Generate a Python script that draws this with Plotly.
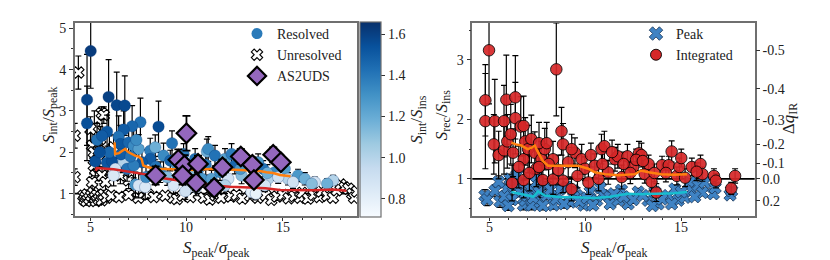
import plotly.graph_objects as go

# ---------------- Left panel data ----------------
res_x = [5.03, 4.84, 4.84, 5.96, 6.38, 6.80, 8.55, 7.61, 7.18, 6.74,
         5.88, 5.36, 5.62, 5.27, 5.88, 6.14, 6.48, 6.57, 7.00, 7.26,
         7.52, 8.12, 8.38, 9.25, 8.81, 8.12, 7.69, 6.74, 6.92, 7.26,
         6.31, 6.22, 7.35, 7.52, 7.86, 9.33, 9.94, 9.68, 9.16, 10.45,
         11.06, 10.63, 10.80, 9.85, 8.64, 6.00, 5.50, 6.60, 7.10, 7.40,
         7.90, 8.40, 9.00, 9.50, 10.20, 11.13, 11.48, 12.00, 12.34, 12.51,
         13.03, 13.72, 13.98, 14.59, 15.10, 15.27, 15.79, 16.14, 16.66, 17.61,
         17.30, 13.55, 13.37, 13.60, 11.30, 11.74, 12.86, 14.24, 14.76, 15.53,
         12.17, 14.07, 11.00, 12.80, 14.20, 10.50, 12.00, 16.50]
res_y = [4.45, 3.27, 2.70, 3.34, 3.14, 3.13, 2.62, 2.73, 2.63, 2.55,
         2.50, 2.30, 2.40, 1.78, 1.75, 1.78, 2.38, 2.20, 2.24, 2.16,
         2.08, 2.04, 2.12, 2.22, 1.92, 1.84, 1.76, 1.76, 1.60, 1.68,
         1.60, 1.44, 1.22, 1.20, 1.16, 1.20, 1.06, 1.56, 1.80, 1.84,
         2.02, 1.60, 1.36, 1.96, 1.52, 2.00, 2.00, 1.95, 1.90, 2.30,
         1.40, 1.65, 1.40, 1.70, 1.45, 2.08, 1.92, 1.84, 1.96, 1.68,
         1.76, 1.76, 1.60, 1.52, 1.60, 1.36, 1.44, 1.36, 1.28, 1.32,
         1.24, 1.16, 1.04, 1.00, 1.36, 1.52, 1.44, 1.36, 1.40, 1.28,
         1.36, 1.20, 1.70, 1.60, 1.50, 1.15, 1.20, 1.24]
res_err = [0.90, 1.10, 0.90, 0.90, 0.80, 0.72, 0.62, 0.58, 0.50, 0.45,
           0.40, 0.40, 0.40, 0.35, 0.30, 0.30, 0.50, 0.45, 0.40, 0.40,
           0.35, 0.30, 0.30, 0.30, 0.30, 0.30, 0.30, 0.25, 0.30, 0.30,
           0.25, 0.25, 0.30, 0.30, 0.30, 0.20, 0.20, 0.25, 0.25, 0.25,
           0.30, 0.25, 0.20, 0.25, 0.25, 0.40, 0.35, 0.35, 0.30, 0.40,
           0.25, 0.25, 0.20, 0.25, 0.20, 0.30, 0.25, 0.25, 0.25, 0.20,
           0.20, 0.20, 0.20, 0.20, 0.20, 0.15, 0.15, 0.15, 0.12, 0.12,
           0.12, 0.15, 0.15, 0.15, 0.20, 0.20, 0.20, 0.15, 0.15, 0.15,
           0.20, 0.15, 0.25, 0.20, 0.20, 0.20, 0.20, 0.12]
res_c = [1.62, 1.58, 1.55, 1.60, 1.58, 1.57, 1.56, 1.42, 1.46, 1.50,
         1.52, 1.42, 1.50, 1.55, 1.52, 1.55, 1.42, 1.52, 1.46, 1.33,
         1.25, 1.38, 1.18, 1.42, 1.33, 1.50, 1.52, 1.00, 1.42, 1.38,
         0.90, 0.85, 1.28, 0.88, 0.85, 0.85, 0.90, 1.33, 1.46, 1.42,
         1.18, 1.33, 1.28, 1.38, 1.33, 1.46, 1.55, 1.50, 1.42, 1.33,
         1.33, 1.42, 1.12, 1.28, 1.12, 1.33, 1.42, 1.25, 1.38, 1.46,
         1.33, 1.28, 1.42, 1.33, 1.25, 1.00, 1.28, 1.18, 0.90, 1.00,
         1.18, 0.85, 0.80, 0.78, 1.25, 1.33, 1.12, 1.00, 0.90, 0.90,
         0.90, 0.88, 1.38, 1.28, 1.18, 0.90, 1.00, 1.12]

unres_x = [4.39, 5.60, 5.71, 5.22, 4.20, 4.20, 5.02, 5.10, 5.19, 5.19,
           5.27, 5.10, 5.53, 5.45, 5.62, 5.80, 6.22, 6.57, 7.00, 5.90, 6.10,
           4.65, 4.70, 4.75, 4.80, 4.85, 4.95, 5.05, 5.15, 5.25, 5.30,
           5.35, 5.45, 5.55, 5.60, 5.70, 5.85, 6.10, 6.50, 7.00, 7.50,
           8.00, 8.30, 8.90, 9.30, 9.50, 9.80, 10.20, 10.90, 11.20, 11.50,
           11.80, 12.30, 12.60, 12.90, 13.30, 13.70, 14.10, 14.40, 14.70, 15.00,
           15.30, 15.60, 15.90, 16.00, 16.30, 16.60, 16.90, 17.00, 17.30, 17.60,
           17.80, 18.00, 18.20, 18.40, 18.60, 18.70, 18.85]
unres_y = [3.93, 2.95, 2.90, 2.60, 2.40, 1.40, 2.56, 2.16, 2.00, 1.68,
           1.44, 1.28, 2.32, 2.04, 1.44, 1.28, 2.12, 1.44, 1.32, 1.90, 1.55,
           0.95, 0.85, 0.92, 0.82, 0.98, 0.88, 0.95, 1.02, 0.90, 0.82,
           0.97, 0.86, 0.93, 0.84, 0.98, 0.90, 0.95, 0.92, 0.97, 0.90,
           0.98, 0.92, 0.95, 0.90, 0.87, 0.95, 0.92, 0.90, 0.86, 0.96,
           0.90, 0.93, 0.97, 0.88, 0.95, 0.90, 0.96, 0.85, 0.93, 0.97,
           0.89, 0.94, 0.90, 1.02, 0.88, 0.97, 0.92, 1.05, 0.95, 0.90,
           1.08, 1.22, 1.15, 1.12, 1.00, 0.90, 1.05]
unres_err = [0.40, 0.15, 0.20, 0.40, 0.30, 0.20, 0.30, 0.30, 0.30, 0.25,
             0.20, 0.20, 0.30, 0.30, 0.20, 0.20, 0.30, 0.20, 0.20, 0.25, 0.20,
             0.10, 0.10, 0.10, 0.10, 0.10, 0.09, 0.09, 0.09, 0.09, 0.09,
             0.09, 0.09, 0.08, 0.08, 0.08, 0.08, 0.08, 0.08, 0.08, 0.07,
             0.07, 0.07, 0.07, 0.06, 0.06, 0.06, 0.06, 0.06, 0.06, 0.06,
             0.06, 0.06, 0.06, 0.05, 0.05, 0.05, 0.05, 0.05, 0.05, 0.05,
             0.05, 0.05, 0.05, 0.05, 0.05, 0.05, 0.05, 0.05, 0.04, 0.04,
             0.04, 0.04, 0.04, 0.04, 0.04, 0.04, 0.04]

as2_x = [10.00, 9.58, 9.90, 9.80, 8.40, 10.60, 10.50, 11.44, 11.87, 12.82, 13.42, 13.50, 14.50, 14.90]
as2_y = [2.46, 1.82, 1.68, 1.44, 1.44, 1.72, 1.26, 1.14, 1.64, 1.90, 1.70, 1.33, 1.94, 1.76]
as2_err = [0.42, 0.25, 0.25, 0.22, 0.22, 0.20, 0.18, 0.18, 0.18, 0.18, 0.18, 0.15, 0.18, 0.15]

medres_x = [6.27, 6.30, 6.50, 6.81, 7.00, 7.33, 7.50, 7.67, 7.76, 8.00, 8.50, 9.00,
            9.70, 10.40, 11.40, 12.40, 13.10, 13.80, 14.15, 14.50, 14.85, 15.20, 15.40]
medres_y = [2.24, 1.96, 1.98, 2.08, 2.00, 1.92, 1.90, 1.84, 1.68, 1.64, 1.60, 1.59,
            1.59, 1.57, 1.60, 1.58, 1.55, 1.55, 1.52, 1.50, 1.45, 1.44, 1.42]
medall_x = [5.30, 5.34, 6.22, 7.08, 7.95, 8.80, 9.66, 10.50, 11.40, 12.25, 13.10,
            14.10, 14.85, 15.70, 16.60, 17.60, 17.95, 18.30]
medall_y = [1.55, 1.62, 1.59, 1.52, 1.46, 1.37, 1.31, 1.26, 1.20, 1.17, 1.15,
            1.13, 1.09, 1.08, 1.08, 1.10, 1.08, 1.07]

x_ticks = [5, 10, 15]
cbar_ticks = [0.8, 1.0, 1.2, 1.4, 1.6]

# ---------------- Right panel data ----------------
int_x = [5.00, 4.81, 4.81, 5.30, 5.25, 5.50, 5.78, 5.90, 5.78, 5.95,
         6.13, 6.37, 6.37, 6.25, 6.20, 6.65, 6.80, 6.88, 6.80, 6.80,
         7.03, 7.20, 7.38, 7.46, 7.72, 7.90, 7.80, 8.50, 8.77, 8.85,
         8.85, 8.33, 8.33, 9.29, 9.12, 9.47, 9.82, 9.99, 10.17, 10.50,
         10.85, 11.00, 10.70, 11.20, 11.55, 11.70, 11.90, 12.20, 12.50, 12.80,
         12.93, 13.10, 13.30, 13.45, 13.70, 14.00, 14.35, 14.50, 14.77, 14.90,
         15.20, 15.55, 16.00, 16.10, 16.70, 16.80, 17.80, 17.60,
         7.60, 8.00, 8.10, 8.60, 9.60, 9.30, 10.30, 10.90, 11.40, 12.00,
         12.35, 12.65, 13.00, 13.60, 14.20, 15.00, 15.80, 7.10, 6.55, 7.60]
int_y = [3.16, 2.32, 1.97, 1.97, 1.58, 1.40, 1.97, 2.33, 1.48, 1.63,
         1.75, 2.37, 2.02, 1.44, 0.93, 1.88, 1.89, 1.63, 1.33, 0.98,
         1.50, 1.67, 1.44, 1.17, 1.33, 1.50, 0.98, 2.84, 1.80, 1.58,
         0.97, 0.99, 1.33, 0.83, 1.28, 1.44, 1.33, 1.17, 0.94, 1.22,
         1.50, 1.55, 1.00, 1.11, 1.33, 1.38, 1.03, 1.38, 1.20, 1.43,
         1.40, 1.08, 1.25, 0.95, 0.77, 1.23, 1.23, 1.46, 1.05, 1.20,
         1.02, 1.20, 1.25, 1.08, 1.05, 0.97, 1.05, 0.84,
         1.60, 1.60, 1.25, 1.15, 1.05, 1.50, 1.40, 1.25, 1.45, 1.25,
         1.10, 1.32, 1.30, 1.10, 1.10, 1.35, 1.12, 1.10, 1.20, 1.20]
int_err = [0.90, 0.60, 0.80, 0.70, 0.50, 0.40, 0.60, 0.75, 0.40, 0.45,
           0.50, 0.70, 0.60, 0.40, 0.30, 0.50, 0.50, 0.40, 0.35, 0.30,
           0.40, 0.40, 0.35, 0.30, 0.30, 0.35, 0.25, 0.78, 0.40, 0.35,
           0.20, 0.25, 0.30, 0.20, 0.25, 0.25, 0.25, 0.20, 0.20, 0.20,
           0.25, 0.25, 0.20, 0.20, 0.20, 0.20, 0.20, 0.20, 0.20, 0.20,
           0.20, 0.15, 0.15, 0.15, 0.15, 0.15, 0.15, 0.18, 0.15, 0.15,
           0.15, 0.15, 0.15, 0.12, 0.12, 0.12, 0.12, 0.10,
           0.35, 0.35, 0.30, 0.25, 0.20, 0.25, 0.20, 0.20, 0.20, 0.20,
           0.18, 0.18, 0.15, 0.15, 0.15, 0.15, 0.15, 0.30, 0.35, 0.30]

pk_x = [4.79, 4.90, 5.31, 5.57, 5.92, 6.09, 6.27, 6.44, 6.61, 6.79,
        6.88, 7.14, 7.22, 7.48, 7.66, 7.92, 8.00, 8.35, 8.70, 9.05,
        9.22, 9.57, 9.92, 10.26, 10.60, 10.95, 11.20, 11.30, 11.72, 11.89,
        12.24, 12.76, 13.28, 13.63, 13.80, 14.32, 14.67, 14.84, 15.19, 15.45,
        15.53, 15.88, 16.10, 16.23, 16.67, 16.76, 17.54, 17.62,
        5.50, 5.80, 6.20, 6.50, 7.00, 7.30, 7.60, 7.80, 8.20, 8.50,
        8.90, 9.40, 9.70, 10.10, 10.40, 10.80, 11.50, 12.00, 12.50, 13.00,
        13.50, 14.00, 14.50, 15.00, 15.70, 6.00, 7.45]
pk_y = [0.72, 0.65, 0.80, 0.62, 0.83, 1.00, 0.89, 1.06, 0.78, 0.56,
        0.64, 0.83, 0.56, 0.94, 0.61, 0.89, 0.72, 0.56, 0.83, 0.86,
        0.61, 0.72, 0.56, 0.78, 0.64, 0.72, 0.72, 0.58, 0.64, 0.81,
        0.58, 0.78, 0.64, 0.78, 0.58, 0.72, 0.83, 0.64, 0.69, 0.94,
        0.80, 0.89, 0.77, 0.94, 0.75, 0.85, 0.73, 0.80,
        0.95, 0.70, 0.65, 0.92, 0.72, 0.68, 0.78, 0.55, 0.82, 0.66,
        0.58, 0.80, 0.62, 0.68, 0.56, 0.85, 0.75, 0.70, 0.65, 0.72,
        0.55, 0.66, 0.58, 0.78, 0.70, 0.55, 1.05]
pk_err = [0.10, 0.10, 0.10, 0.10, 0.08, 0.08, 0.08, 0.08, 0.08, 0.08,
          0.08, 0.08, 0.08, 0.08, 0.08, 0.07, 0.07, 0.07, 0.07, 0.07,
          0.07, 0.07, 0.06, 0.06, 0.06, 0.06, 0.06, 0.06, 0.06, 0.06,
          0.06, 0.06, 0.05, 0.05, 0.05, 0.05, 0.05, 0.05, 0.05, 0.05,
          0.05, 0.05, 0.05, 0.05, 0.05, 0.05, 0.05, 0.05,
          0.10, 0.10, 0.08, 0.08, 0.08, 0.08, 0.08, 0.07, 0.07, 0.07,
          0.07, 0.07, 0.06, 0.06, 0.06, 0.06, 0.06, 0.06, 0.06, 0.05,
          0.05, 0.05, 0.05, 0.05, 0.05, 0.08, 0.08]

medint_x = [6.16, 6.40, 6.68, 7.00, 7.20, 7.38, 7.50, 7.64, 7.80, 8.07, 8.77,
            9.64, 10.17, 10.50, 11.03, 11.72, 12.60, 12.90, 13.30, 13.96, 14.60, 15.30]
medint_y = [1.61, 1.58, 1.56, 1.50, 1.52, 1.56, 1.48, 1.39, 1.30, 1.22, 1.22,
            1.22, 1.17, 1.11, 1.08, 1.06, 1.08, 1.14, 1.11, 1.08, 1.07, 1.08]
medpk_x = [6.16, 6.68, 7.03, 7.30, 7.55, 7.90, 8.77, 9.50, 10.50, 11.30, 12.20,
           12.80, 13.96, 14.60, 15.30]
medpk_y = [0.78, 0.75, 0.72, 0.70, 0.79, 0.72, 0.69, 0.69, 0.68, 0.70, 0.75,
           0.74, 0.75, 0.76, 0.78]

dq_ticks = [-0.5, -0.4, -0.3, -0.2, -0.1, 0.0, 0.2]

# ---------------- Styling ----------------
FONT = "Liberation Serif, DejaVu Serif, serif"
W, H = 830, 260
SPINE = "#6f6f6f"
BLUES = [[0.0, "#f7fbff"], [0.125, "#deebf7"], [0.25, "#c6dbef"], [0.375, "#9ecae1"],
         [0.5, "#6baed6"], [0.625, "#4292c6"], [0.75, "#2171b5"], [0.875, "#08519c"],
         [1.0, "#08306b"]]

def px_x(p):
    return p / W

def px_y(p):
    return 1 - p / H

ERR = dict(type="data", color="black", thickness=1.2, width=3)

fig = go.Figure()

# Left panel
fig.add_trace(go.Scatter(
    x=unres_x, y=unres_y, mode="markers", xaxis="x", yaxis="y", showlegend=False,
    error_y=dict(ERR, array=unres_err),
    marker=dict(symbol="x", size=10, color="white", line=dict(color="black", width=1.1))))
fig.add_trace(go.Scatter(
    x=res_x, y=res_y, mode="markers", xaxis="x", yaxis="y", showlegend=False,
    error_y=dict(ERR, array=res_err),
    marker=dict(symbol="circle", size=11.5, color=res_c, colorscale=BLUES, cmin=0.71, cmax=1.66,
                line=dict(color="rgba(8,48,107,0.45)", width=0.6),
                colorbar=dict(x=px_x(352), xanchor="left", xpad=0, ypad=0,
                              y=px_y(110.5), yanchor="middle",
                              thickness=21, thicknessmode="pixels",
                              len=195, lenmode="pixels",
                              outlinewidth=1.2, outlinecolor=SPINE,
                              tickvals=cbar_ticks, ticktext=[f"{v:.1f}" for v in cbar_ticks],
                              ticks="outside", ticklen=4, tickcolor="#333",
                              tickfont=dict(family=FONT, size=14, color="#222"),
                              title=dict(text="<i>S</i><sub>int</sub>/<i>S</i><sub>ins</sub>",
                                         side="right", font=dict(family=FONT, size=17, color="#222"))))))
fig.add_trace(go.Scatter(x=medall_x, y=medall_y, mode="lines", xaxis="x", yaxis="y", showlegend=False,
                         line=dict(color="#d62728", width=2.5)))
fig.add_trace(go.Scatter(x=medres_x, y=medres_y, mode="lines", xaxis="x", yaxis="y", showlegend=False,
                         line=dict(color="#ff7f0e", width=2.5)))
fig.add_trace(go.Scatter(
    x=as2_x, y=as2_y, mode="markers", xaxis="x", yaxis="y", showlegend=False,
    error_y=dict(ERR, array=as2_err, thickness=1.8, width=4),
    marker=dict(symbol="diamond", size=15, color="#9467bd", line=dict(color="black", width=2.2))))

# legend entries (left)
fig.add_trace(go.Scatter(x=[None], y=[None], mode="markers", name="Resolved", xaxis="x", yaxis="y",
                         marker=dict(symbol="circle", size=11, color="#2a7ab9"), legend="legend"))
fig.add_trace(go.Scatter(x=[None], y=[None], mode="markers", name="Unresolved", xaxis="x", yaxis="y",
                         marker=dict(symbol="x", size=10, color="white", line=dict(color="black", width=1.1)),
                         legend="legend"))
fig.add_trace(go.Scatter(x=[None], y=[None], mode="markers", name="AS2UDS", xaxis="x", yaxis="y",
                         marker=dict(symbol="diamond", size=14, color="#9467bd", line=dict(color="black", width=2.2)),
                         legend="legend"))

# Right panel
fig.add_trace(go.Scatter(
    x=pk_x, y=pk_y, mode="markers", xaxis="x2", yaxis="y2", showlegend=False,
    error_y=dict(ERR, array=pk_err),
    marker=dict(symbol="x", size=11, color="#3f83c4", line=dict(color="#1a3556", width=0.8))))
fig.add_trace(go.Scatter(
    x=int_x, y=int_y, mode="markers", xaxis="x2", yaxis="y2", showlegend=False,
    error_y=dict(ERR, array=int_err),
    marker=dict(symbol="circle", size=11.5, color="#d62728", opacity=0.92, line=dict(color="black", width=0.9))))
fig.add_trace(go.Scatter(x=medint_x, y=medint_y, mode="lines", xaxis="x2", yaxis="y2", showlegend=False,
                         line=dict(color="#ff7f0e", width=2.5)))
fig.add_trace(go.Scatter(x=medpk_x, y=medpk_y, mode="lines", xaxis="x2", yaxis="y2", showlegend=False,
                         line=dict(color="#17becf", width=2.5)))
# invisible trace so the secondary (Δq) axis is drawn
fig.add_trace(go.Scatter(x=[None], y=[None], mode="markers", xaxis="x2", yaxis="y3",
                         showlegend=False, hoverinfo="skip"))

fig.add_trace(go.Scatter(x=[None], y=[None], mode="markers", name="Peak", xaxis="x2", yaxis="y2",
                         marker=dict(symbol="x", size=12, color="#3f83c4", line=dict(color="#1a3556", width=0.8)),
                         legend="legend2"))
fig.add_trace(go.Scatter(x=[None], y=[None], mode="markers", name="Integrated", xaxis="x2", yaxis="y2",
                         marker=dict(symbol="circle", size=11, color="#d62728", line=dict(color="black", width=0.9)),
                         legend="legend2"))

# reference lines at unity
for xr, yr in (("x domain", "y"), ("x2 domain", "y2")):
    fig.add_shape(type="line", xref=xr, yref=yr, x0=0, x1=1, y0=1, y1=1,
                  line=dict(color="black", width=1.6), layer="below")

tickfont = dict(family=FONT, size=14, color="#222")
common_x = dict(showgrid=False, zeroline=False, showline=True, mirror=True, linecolor=SPINE,
                linewidth=1.5, ticks="outside", ticklen=3, tickcolor="#333", showticklabels=False,
                tickvals=x_ticks, minor=dict(dtick=1, ticks="outside", ticklen=2, tickcolor="#333"))
common_y = dict(showgrid=False, zeroline=False, showline=True, mirror=True, linecolor=SPINE,
                linewidth=1.5, ticks="outside", ticklen=4, tickcolor="#333", tickfont=tickfont,
                minor=dict(dtick=0.5, ticks="outside", ticklen=2, tickcolor="#333"))

fig.update_layout(
    width=W, height=H, margin=dict(l=0, r=0, t=0, b=0),
    paper_bgcolor="white", plot_bgcolor="white",
    font=dict(family=FONT, size=14, color="#222"),
    xaxis=dict(common_x, domain=[px_x(66.7), px_x(349)], range=[4.2, 18.85], anchor="y"),
    yaxis=dict(common_y, domain=[px_y(208), px_y(13)], range=[0.45, 5.13], anchor="x",
               tickvals=[1, 2, 3, 4, 5]),
    xaxis2=dict(common_x, domain=[px_x(464.3), px_x(746.7)], range=[4.13, 18.82], anchor="y2"),
    yaxis2=dict(common_y, domain=[px_y(208), px_y(13)], range=[0.37, 3.62], anchor="x2",
                tickvals=[1, 2, 3]),
    yaxis3=dict(overlaying="y2", side="right", anchor="x2", range=[0.37, 3.62],
                showgrid=False, zeroline=False, showline=False,
                tickmode="array",
                tickvals=[10 ** (-d) for d in dq_ticks],
                ticktext=[f"{d:.1f}" for d in dq_ticks],
                ticks="outside", ticklen=4, tickcolor="#333", tickfont=tickfont),
    legend=dict(x=px_x(229), y=px_y(8), xanchor="left", yanchor="top",
                bgcolor="rgba(0,0,0,0)", font=dict(family=FONT, size=14, color="#222"),
                itemwidth=30, tracegroupgap=0),
    legend2=dict(x=px_x(628), y=px_y(8), xanchor="left", yanchor="top",
                 bgcolor="rgba(0,0,0,0)", font=dict(family=FONT, size=14, color="#222"),
                 itemwidth=30, tracegroupgap=0),
)

# x tick labels, placed at the axis positions of the ticks
for xa in ("x", "x2"):
    for v in x_ticks:
        fig.add_annotation(xref=xa, yref="paper", x=v, y=px_y(219), text=str(v), showarrow=False,
                           xanchor="center", yanchor="middle", font=tickfont)

title_font = dict(family=FONT, size=17, color="#222")
ann = [
    dict(text="<i>S</i><sub>peak</sub>/<i>σ</i><sub>peak</sub>", x=px_x(208), y=px_y(241)),
    dict(text="<i>S</i><sub>peak</sub>/<i>σ</i><sub>peak</sub>", x=px_x(606), y=px_y(241)),
    dict(text="<i>S</i><sub>int</sub>/<i>S</i><sub>peak</sub>", x=px_x(42), y=px_y(106), textangle=-90),
    dict(text="<i>S</i><sub>rec</sub>/<i>S</i><sub>ins</sub>", x=px_x(435), y=px_y(106), textangle=-90),
    dict(text="Δ<i>q</i><sub>IR</sub>", x=px_x(782), y=px_y(110), textangle=-90),
]
for a in ann:
    fig.add_annotation(xref="paper", yref="paper", showarrow=False, xanchor="center", yanchor="middle",
                       font=title_font, **a)

fig.write_html("out.html")
